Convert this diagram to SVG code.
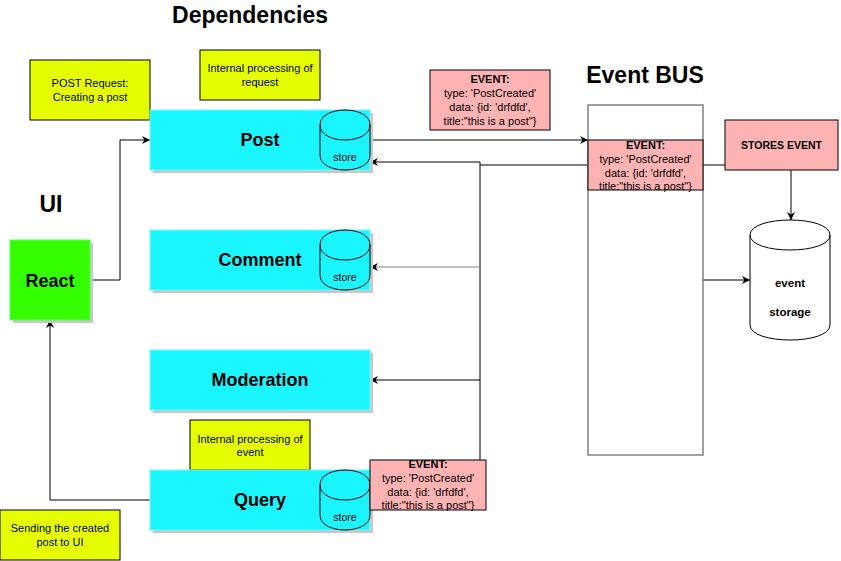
<svg xmlns="http://www.w3.org/2000/svg" width="841" height="561" viewBox="0 0 841 561">
<defs>
<marker id="arr" viewBox="0 0 10 10" refX="10" refY="5" markerWidth="8" markerHeight="8" markerUnits="userSpaceOnUse" orient="auto">
<path d="M0,0 L10,5 L0,10 L3,5 Z" fill="#000"/>
</marker>
</defs>
<style>
text{font-family:"Liberation Sans",Arial,sans-serif;fill:#000}
.title{font-size:23px;font-weight:bold;text-anchor:middle}
.svc{font-size:18px;font-weight:bold;text-anchor:middle}
.sm{font-size:11px;text-anchor:middle}
.b{font-weight:bold}
.store{font-size:10.5px;text-anchor:middle}
.cyan{fill:#1AF6FF;stroke:#6ff9ff;stroke-width:1}
.shadow{fill:#c8c8c8}
.note{fill:#E6FF00;stroke:#000;stroke-width:1}
.pink{fill:#FFB3B3;stroke:#000;stroke-width:1}
.cyl{fill:#1AF6FF;stroke:#000;stroke-width:1}
.ln{fill:none;stroke:#000;stroke-width:1}
.gray{stroke:#808080}
</style>

<text class="title" x="250" y="23">Dependencies</text>
<text class="title" x="645" y="83">Event BUS</text>
<text class="title" x="51" y="212">UI</text>

<g id="note-post-request">
<rect class="note" x="30" y="60" width="120" height="60"/>
<text class="sm" x="90" y="87">POST Request:</text>
<text class="sm" x="90" y="101">Creating a post</text>
</g>
<g id="note-internal-request">
<rect class="note" x="200" y="50" width="120" height="50"/>
<text class="sm" x="260" y="72">Internal processing of</text>
<text class="sm" x="260" y="86">request</text>
</g>

<g id="connectors">
<path class="ln" d="M90,280 H120 V140 H150" marker-end="url(#arr)"/>
<path class="ln" d="M370,140 H588" marker-end="url(#arr)"/>
<path class="ln" d="M588,165 H480"/>
<path class="ln" d="M480,162 V460"/>
<path class="ln" d="M480,162 H370" marker-end="url(#arr)"/>
<path class="ln gray" d="M480,267 H370" marker-end="url(#arr)"/>
<path class="ln" d="M480,380 H370" marker-end="url(#arr)"/>
<path class="ln" d="M703,165 H725"/>
<path class="ln" d="M791,170 V220" marker-end="url(#arr)"/>
<path class="ln" d="M703,280 H750" marker-end="url(#arr)"/>
<path class="ln" d="M150,500 H50 V320" marker-end="url(#arr)"/>
</g>

<g id="react">
<rect class="shadow" x="13" y="243" width="80" height="80"/>
<rect x="10" y="240" width="80" height="80" fill="#33FF00" stroke="#5f5" stroke-width="1"/>
<text class="svc" x="50" y="287">React</text>
</g>

<g id="post">
<rect class="shadow" x="153" y="113" width="220" height="60"/>
<rect class="cyan" x="150" y="110" width="220" height="60"/>
<text class="svc" x="260" y="146">Post</text>
<path class="cyl" d="M320,125 C320,105 370,105 370,125 L370,155 C370,175 320,175 320,155 Z M320,125 C320,145 370,145 370,125"/>
<text class="store" x="345" y="161">store</text>
</g>

<g id="comment">
<rect class="shadow" x="153" y="233" width="220" height="60"/>
<rect class="cyan" x="150" y="230" width="220" height="60"/>
<text class="svc" x="260" y="266">Comment</text>
<path class="cyl" d="M320,245 C320,225 370,225 370,245 L370,275 C370,295 320,295 320,275 Z M320,245 C320,265 370,265 370,245"/>
<text class="store" x="345" y="281">store</text>
</g>

<g id="moderation">
<rect class="shadow" x="153" y="353" width="220" height="60"/>
<rect class="cyan" x="150" y="350" width="220" height="60"/>
<text class="svc" x="260" y="386">Moderation</text>
</g>

<g id="note-internal-event">
<rect class="note" x="190" y="420" width="120" height="50"/>
<text class="sm" x="250" y="442.5">Internal processing of</text>
<text class="sm" x="250" y="456">event</text>
</g>

<g id="query">
<rect class="shadow" x="153" y="473" width="220" height="60"/>
<rect class="cyan" x="150" y="470" width="220" height="60"/>
<text class="svc" x="260" y="506">Query</text>
<path class="cyl" d="M320,485 C320,465 370,465 370,485 L370,515 C370,535 320,535 320,515 Z M320,485 C320,505 370,505 370,485"/>
<text class="store" x="345" y="521">store</text>
</g>

<g id="note-sending">
<rect class="note" x="0" y="510" width="120" height="50"/>
<text class="sm" x="60" y="532">Sending the created</text>
<text class="sm" x="60" y="546">post to UI</text>
</g>

<g id="event-top">
<rect class="pink" x="430" y="70" width="120" height="60"/>
<text class="sm b" x="490" y="83">EVENT:</text>
<text class="sm" x="490" y="97">type: 'PostCreated'</text>
<text class="sm" x="490" y="111">data: {id: 'drfdfd',</text>
<text class="sm" x="490" y="125">title:"this is a post"}</text>
</g>

<g id="event-bus">
<rect x="588" y="105" width="115" height="350" fill="#fff" stroke="#808080" stroke-width="1.5"/>
<rect class="pink" x="588" y="140" width="115" height="50"/>
<text class="sm b" x="645.5" y="149">EVENT:</text>
<text class="sm" x="645.5" y="163">type: 'PostCreated'</text>
<text class="sm" x="645.5" y="176.5">data: {id: 'drfdfd',</text>
<text class="sm" x="645.5" y="190">title:"this is a post"}</text>
</g>

<g id="event-query">
<rect class="pink" x="370" y="460" width="116" height="50"/>
<text class="sm b" x="428" y="468">EVENT:</text>
<text class="sm" x="428" y="482">type: 'PostCreated'</text>
<text class="sm" x="428" y="495.5">data: {id: 'drfdfd',</text>
<text class="sm" x="428" y="509">title:"this is a post"}</text>
</g>

<g id="stores-event">
<rect class="pink" x="725" y="120" width="113" height="50"/>
<text class="sm b" x="781.5" y="149" style="font-size:10.5px">STORES EVENT</text>
</g>

<g id="event-storage">
<path d="M750,235 C750,215 830,215 830,235 L830,325 C830,345 750,345 750,325 Z M750,235 C750,255 830,255 830,235" fill="#fff" stroke="#000" stroke-width="1"/>
<text class="sm b" x="790" y="287" style="font-size:11.5px">event</text>
<text class="sm b" x="790" y="316" style="font-size:11.5px">storage</text>
</g>
</svg>
